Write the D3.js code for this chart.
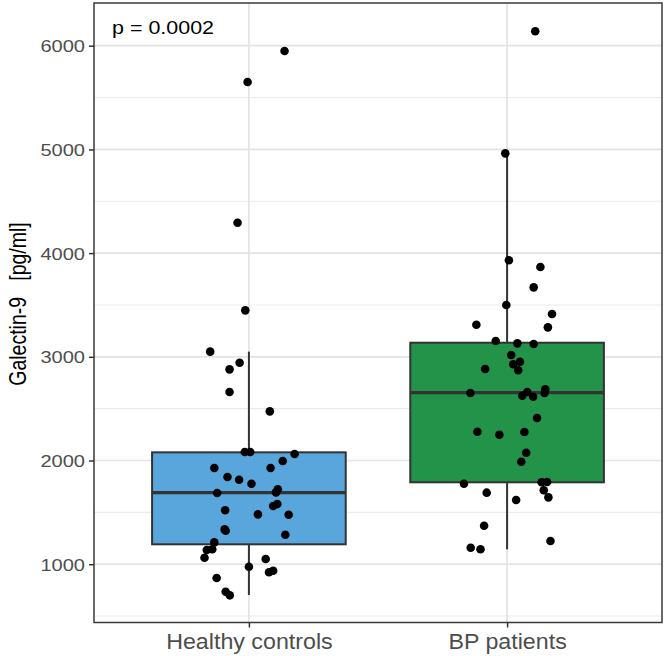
<!DOCTYPE html>
<html>
<head>
<meta charset="utf-8">
<script src="https://cdn.jsdelivr.net/npm/d3@7"></script>
<style>
  body { margin: 0; background: #fff; }
  svg text { font-family: "Liberation Sans", Arial, sans-serif; }
</style>
</head>
<body>
<div class="graph"></div>
<script>
// categories and values
var categories = ['Healthy controls', 'BP patients'];
var yTicks = [1000, 2000, 3000, 4000, 5000, 6000];
var yMinorTicks = [500, 1500, 2500, 3500, 4500, 5500];

var healthyValues = [5949, 5650, 4293, 3448, 3050, 2943, 2879, 2661, 2474, 2082, 2082, 2063, 1995, 1928,
  1928, 1841, 1815, 1776, 1722, 1693, 1687, 1580, 1561, 1520, 1481, 1477, 1336, 1323, 1284, 1211,
  1144, 1137, 1063, 1050, 976, 937, 922, 867, 735, 700];
var healthyJitter = [0.138, -0.005, -0.044, -0.014, -0.150, -0.036, -0.075, -0.075, 0.081, -0.016, 0.005,
  0.177, 0.131, -0.134, 0.084, -0.083, -0.038, 0.010, 0.112, 0.105, -0.123, 0.110, 0.094, -0.092, 0.035,
  0.154, -0.094, -0.090, 0.141, -0.134, -0.142, -0.163, -0.172, 0.065, 0, 0.094, 0.078, -0.125, -0.090, -0.074];

var bpValues = [6139, 4962, 3931, 3866, 3670, 3500, 3413, 3310, 3284, 3152, 3130, 3123, 3017, 2953, 2928,
  2882, 2870, 2687, 2661, 2651, 2651, 2625, 2615, 2410, 2278, 2275, 2249, 2075, 1988, 1793, 1790, 1776,
  1713, 1690, 1645, 1619, 1371, 1224, 1159, 1144];
var bpJitter = [0.109, -0.007, 0.007, 0.129, 0.103, -0.003, 0.174, -0.119, 0.158, -0.044, 0.040, 0.103,
  0.016, 0.050, 0.024, -0.085, 0.043, 0.148, 0.078, -0.142, 0.145, 0.059, 0.101, 0.116, -0.115, 0.067,
  -0.030, 0.074, 0.055, 0.155, 0.134, -0.167, 0.142, -0.079, 0.160, 0.035, -0.089, 0.168, -0.141, -0.103];

// box statistics as drawn
var boxQ1 = [1192, 1790];
var boxMedian = [1690, 2654];
var boxQ3 = [2079, 3136];
var whiskerLow = [703, 1144];
var whiskerHigh = [3050, 4962];
var boxColors = ['#58a6dc', '#23934a'];

var width = 667,
    height = 656;
var panel = { left: 94, right: 662, top: 3, bottom: 622.5 };

var svg = d3.select('.graph')
  .append('svg')
  .attr('width', width)
  .attr('height', height);

var xScale = d3.scaleLinear()
  .domain([0.4, 2.6])
  .range([panel.left, panel.right]);

var yScale = d3.scaleLinear()
  .domain([438, 6412])
  .range([panel.bottom, panel.top]);

// stretch text horizontally a bit, the figure was scaled wider than tall
function stretch(sel, k) {
  sel.each(function() {
    var len = this.getComputedTextLength();
    d3.select(this)
      .attr('textLength', len * k)
      .attr('lengthAdjust', 'spacingAndGlyphs');
  });
}

// grid
var grid = svg.append('g');
grid.selectAll('.minor')
  .data(yMinorTicks)
  .enter()
  .append('line')
  .attr('x1', panel.left).attr('x2', panel.right)
  .attr('y1', d => yScale(d)).attr('y2', d => yScale(d))
  .attr('stroke', '#ebebeb')
  .attr('stroke-width', 1.1);
grid.selectAll('.major')
  .data(yTicks)
  .enter()
  .append('line')
  .attr('x1', panel.left).attr('x2', panel.right)
  .attr('y1', d => yScale(d)).attr('y2', d => yScale(d))
  .attr('stroke', '#e3e3e3')
  .attr('stroke-width', 1.7);
grid.selectAll('.vmajor')
  .data(categories)
  .enter()
  .append('line')
  .attr('x1', (d, i) => xScale(i + 1)).attr('x2', (d, i) => xScale(i + 1))
  .attr('y1', panel.top).attr('y2', panel.bottom)
  .attr('stroke', '#e3e3e3')
  .attr('stroke-width', 1.7);

// boxes
var boxes = svg.append('g');
var boxW = 0.75;
categories.forEach((c, i) => {
  var cx = xScale(i + 1);
  boxes.append('line')
    .attr('x1', cx).attr('x2', cx)
    .attr('y1', yScale(whiskerLow[i])).attr('y2', yScale(boxQ1[i]))
    .attr('stroke', '#333').attr('stroke-width', 2);
  boxes.append('line')
    .attr('x1', cx).attr('x2', cx)
    .attr('y1', yScale(whiskerHigh[i])).attr('y2', yScale(boxQ3[i]))
    .attr('stroke', '#333').attr('stroke-width', 2);
  boxes.append('rect')
    .attr('x', xScale(i + 1 - boxW / 2))
    .attr('y', yScale(boxQ3[i]))
    .attr('width', xScale(i + 1 + boxW / 2) - xScale(i + 1 - boxW / 2))
    .attr('height', yScale(boxQ1[i]) - yScale(boxQ3[i]))
    .attr('fill', boxColors[i])
    .attr('stroke', '#333')
    .attr('stroke-width', 2);
  boxes.append('line')
    .attr('x1', xScale(i + 1 - boxW / 2)).attr('x2', xScale(i + 1 + boxW / 2))
    .attr('y1', yScale(boxMedian[i])).attr('y2', yScale(boxMedian[i]))
    .attr('stroke', '#333').attr('stroke-width', 3.2);
});

// jittered points
var points = healthyValues.map((v, i) => ({ g: 1, v: v, j: healthyJitter[i] }))
  .concat(bpValues.map((v, i) => ({ g: 2, v: v, j: bpJitter[i] })));

svg.append('g').selectAll('circle')
  .data(points)
  .enter()
  .append('circle')
  .attr('cx', d => xScale(d.g + d.j))
  .attr('cy', d => yScale(d.v))
  .attr('r', 4.3)
  .attr('fill', '#000');

// panel border
svg.append('rect')
  .attr('x', panel.left).attr('y', panel.top)
  .attr('width', panel.right - panel.left)
  .attr('height', panel.bottom - panel.top)
  .attr('fill', 'none')
  .attr('stroke', '#3a3a3a')
  .attr('stroke-width', 1.5);

// axes
var yAxis = d3.axisLeft(yScale)
  .tickValues(yTicks)
  .tickSize(5)
  .tickPadding(4)
  .tickFormat(d3.format('d'));
var yAxisGroup = svg.append('g')
  .attr('transform', 'translate(' + panel.left + ',0)')
  .call(yAxis);
yAxisGroup.select('.domain').remove();
yAxisGroup.selectAll('.tick line').attr('stroke', '#333').attr('stroke-width', 1.5);
yAxisGroup.selectAll('.tick text')
  .attr('fill', '#4d4d4d')
  .style('font-size', '17px')
  .attr('dy', '0.36em');
stretch(yAxisGroup.selectAll('.tick text'), 1.18);

var xAxis = d3.axisBottom(xScale)
  .tickValues([1, 2])
  .tickSize(5)
  .tickPadding(6)
  .tickFormat(d => categories[d - 1]);
var xAxisGroup = svg.append('g')
  .attr('transform', 'translate(0,' + panel.bottom + ')')
  .call(xAxis);
xAxisGroup.select('.domain').remove();
xAxisGroup.selectAll('.tick line').attr('stroke', '#333').attr('stroke-width', 1.5);
xAxisGroup.selectAll('.tick text')
  .attr('fill', '#4d4d4d')
  .style('font-size', '21.5px');
stretch(xAxisGroup.selectAll('.tick text'), 1.08);

// axis title, scaled wider to match the stretched figure
svg.append('text')
  .text('Galectin-9   [pg/ml]')
  .style('white-space', 'pre')
  .style('font-size', '19.5px')
  .attr('fill', '#000')
  .attr('text-anchor', 'middle')
  .attr('transform', 'translate(26,304) scale(1.2,1) rotate(-90)');

// p value annotation
var pText = svg.append('text')
  .text('p = 0.0002')
  .style('font-size', '18.5px')
  .attr('fill', '#000')
  .attr('x', 112)
  .attr('y', 33.5);
stretch(pText, 1.16);
</script>
</body>
</html>
